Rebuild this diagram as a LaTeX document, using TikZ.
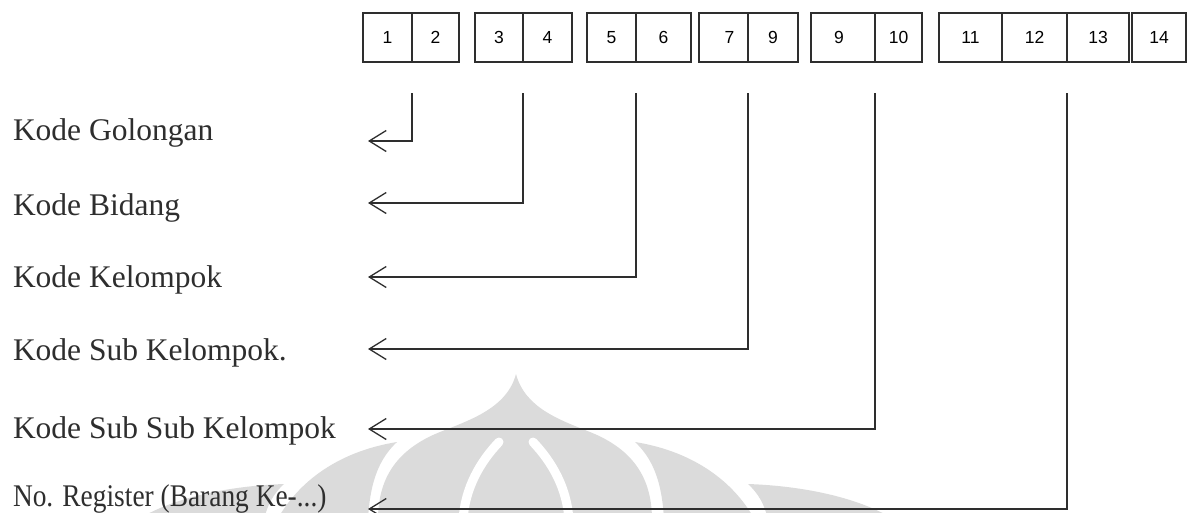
\documentclass[tikz,border=0pt]{standalone}
\usepackage{fontspec}
\usepackage{graphicx}
\setmainfont{Liberation Serif}
\newfontfamily\boxfont{Liberation Sans}
\usetikzlibrary{arrows.meta}
\definecolor{wm}{gray}{0.86}
\definecolor{ink}{gray}{0.18}
\begin{document}
\begin{tikzpicture}[x=1pt,y=-1pt,
  cell/.style={draw=ink, line width=1.3pt, minimum height=49pt, inner sep=0pt, outer sep=0pt,
    font=\boxfont\fontsize{17.5}{19}\selectfont},
  lbl/.style={anchor=base west, inner sep=0pt, outer sep=0pt, font=\fontsize{31.5}{36}\selectfont, text=ink},
  conn/.style={draw=ink, line width=1.4pt, -{Straight Barb[length=17pt,width=21pt,line width=1.3pt]}},
  gap/.style={draw=white, line width=9pt, line cap=round}
]
\useasboundingbox (0,0) rectangle (1187,512);
% watermark
\begin{scope}
\clip (0,0) rectangle (1187,512);
\fill[wm] (516,374) .. controls (507,408) and (470,420) .. (440,432) .. controls (395,450) and (378,480) .. (378,520)
  -- (652,520) .. controls (652,480) and (635,450) .. (590,432) .. controls (560,420) and (525,408) .. (516,374) -- cycle;
\fill[wm] (635,442) .. controls (685,450) and (730,475) .. (755,520) -- (664,520) .. controls (662,480) and (652,458) .. (635,442) -- cycle;
\fill[wm] (397,442) .. controls (347,450) and (302,475) .. (277,520) -- (368,520) .. controls (370,480) and (380,458) .. (397,442) -- cycle;
\fill[wm] (748,484) .. controls (805,486) and (860,498) .. (895,520) -- (768,520) .. controls (765,505) and (758,493) .. (748,484) -- cycle;
\fill[wm] (284,484) .. controls (227,486) and (172,498) .. (137,520) -- (264,520) .. controls (267,505) and (274,493) .. (284,484) -- cycle;
\draw[gap] (499,442) .. controls (480,462) and (465,488) .. (463,520);
\draw[gap] (533,442) .. controls (552,462) and (567,488) .. (569,520);
\end{scope}
% boxes
\node[cell, minimum width=49pt] (b1) at (387.5,37.5) {1};
\node[cell, minimum width=47pt] (b2) at (435.5,37.5) {2};
\node[cell, minimum width=48pt] (b3) at (499,37.5) {3};
\node[cell, minimum width=49pt] (b4) at (547.5,37.5) {4};
\node[cell, minimum width=49pt] (b5) at (611.5,37.5) {5};
\node[cell, minimum width=55pt] (b6) at (663.5,37.5) {6};
\node[cell, minimum width=49pt] (b7) at (723.5,37.5) {\hspace*{12pt}7};
\node[cell, minimum width=50pt] (b8) at (773,37.5) {9};
\node[cell, minimum width=64pt] (b9) at (843,37.5) {9\hspace*{8pt}};
\node[cell, minimum width=47pt] (b10) at (898.5,37.5) {10};
\node[cell, minimum width=63pt] (b11) at (970.5,37.5) {11};
\node[cell, minimum width=65pt] (b12) at (1034.5,37.5) {12};
\node[cell, minimum width=62pt] (b13) at (1098,37.5) {13};
\node[cell, minimum width=54pt] (b14) at (1159,37.5) {14};
% labels
\node[lbl] (l1) at (13,140) {Kode Golongan};
\node[lbl] (l2) at (13,215) {Kode Bidang};
\node[lbl] (l3) at (13,287) {Kode Kelompok};
\node[lbl] (l4) at (13,360) {Kode Sub Kelompok.};
\node[lbl] (l5) at (13,438) {Kode Sub Sub Kelompok};
\node[lbl] (l6) at (13,506) {\scalebox{0.87}[1]{No. Register (Barang Ke-...)}};
% arrow tips
\coordinate (t1) at (368,141);
\coordinate (t2) at (368,203);
\coordinate (t3) at (368,277);
\coordinate (t4) at (368,349);
\coordinate (t5) at (368,429);
\coordinate (t6) at (368,509);
% connectors
\draw[conn] ([yshift=-31pt]b1.south east) |- (t1);
\draw[conn] ([yshift=-31pt]b3.south east) |- (t2);
\draw[conn] ([yshift=-31pt]b5.south east) |- (t3);
\draw[conn] ([yshift=-31pt]b7.south east) |- (t4);
\draw[conn] ([yshift=-31pt]b9.south east) |- (t5);
\draw[conn] ([yshift=-31pt]b12.south east) |- (t6);
\end{tikzpicture}
\end{document}
